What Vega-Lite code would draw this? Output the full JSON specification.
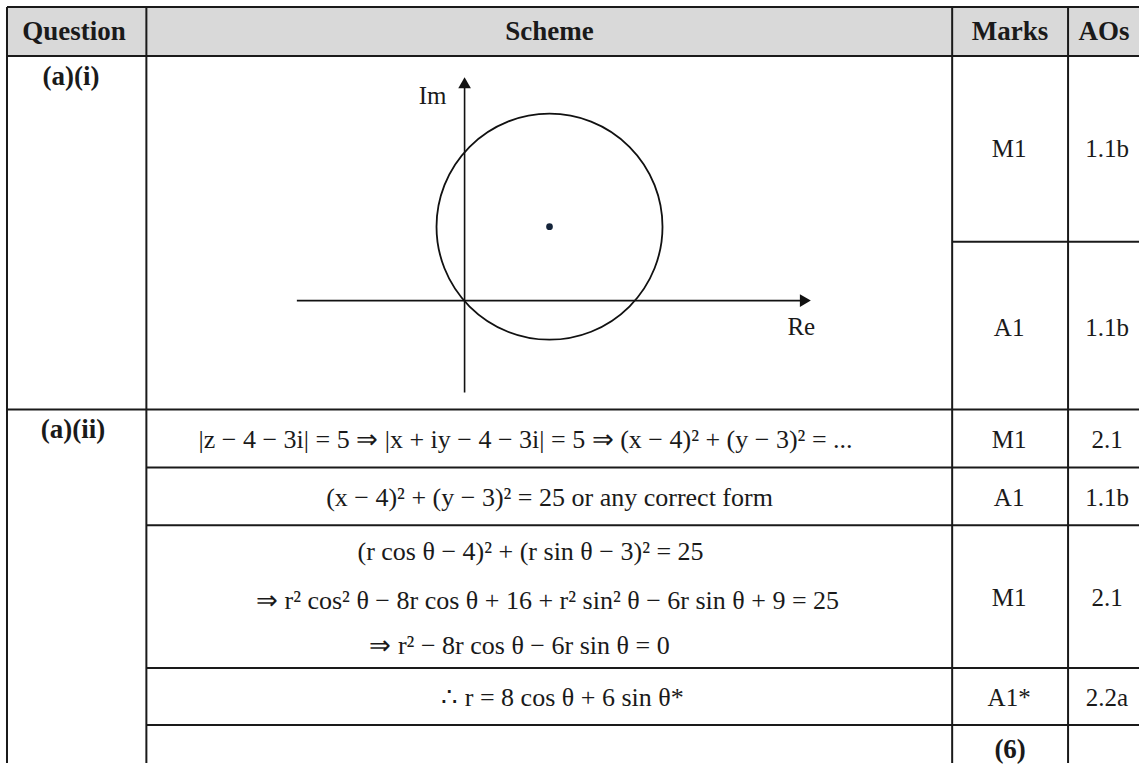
{
  "$schema": "https://vega.github.io/schema/vega-lite/v6.json",
  "width": 1140,
  "height": 764,
  "autosize": {"type": "fit", "contains": "padding"},
  "padding": 0,
  "background": "white",
  "config": {"view": {"stroke": null}, "text": {"font": "Liberation Serif"}},
  "datasets": {
    "header_band": [{"x": 7, "x2": 1140, "y": 7, "y2": 56}],
    "grid": [
      {"x": 7, "x2": 1140, "y": 7, "y2": 7},
      {"x": 7, "x2": 1140, "y": 56, "y2": 56},
      {"x": 953, "x2": 1140, "y": 242, "y2": 242},
      {"x": 7, "x2": 1140, "y": 410, "y2": 410},
      {"x": 146.5, "x2": 1140, "y": 468, "y2": 468},
      {"x": 146.5, "x2": 1140, "y": 526, "y2": 526},
      {"x": 146.5, "x2": 1140, "y": 669, "y2": 669},
      {"x": 146.5, "x2": 1140, "y": 726, "y2": 726},
      {"x": 7, "x2": 7, "y": 7, "y2": 764},
      {"x": 146.5, "x2": 146.5, "y": 7, "y2": 764},
      {"x": 953, "x2": 953, "y": 7, "y2": 764},
      {"x": 1069, "x2": 1069, "y": 7, "y2": 764}
    ],
    "bold_text": [
      {"x": 74, "y": 32, "label": "Question"},
      {"x": 550, "y": 32, "label": "Scheme"},
      {"x": 1011, "y": 32, "label": "Marks"},
      {"x": 1105, "y": 32, "label": "AOs"},
      {"x": 71, "y": 77, "label": "(a)(i)"},
      {"x": 73, "y": 431, "label": "(a)(ii)"},
      {"x": 1011, "y": 751, "label": "(6)"}
    ],
    "marks_text": [
      {"x": 1010, "y": 149, "label": "M1"},
      {"x": 1108, "y": 149, "label": "1.1b"},
      {"x": 1010, "y": 328, "label": "A1"},
      {"x": 1108, "y": 328, "label": "1.1b"},
      {"x": 1010, "y": 441, "label": "M1"},
      {"x": 1108, "y": 441, "label": "2.1"},
      {"x": 1010, "y": 499, "label": "A1"},
      {"x": 1108, "y": 499, "label": "1.1b"},
      {"x": 1010, "y": 599, "label": "M1"},
      {"x": 1108, "y": 599, "label": "2.1"},
      {"x": 1010, "y": 699, "label": "A1*"},
      {"x": 1108, "y": 699, "label": "2.2a"}
    ],
    "scheme_text": [
      {"x": 526, "y": 441, "label": "|z − 4 − 3i| = 5 ⇒ |x + iy − 4 − 3i| = 5 ⇒ (x − 4)² + (y − 3)² = ..."},
      {"x": 550, "y": 499, "label": "(x − 4)² + (y − 3)² = 25 or any correct form"},
      {"x": 531, "y": 553, "label": "(r cos θ − 4)² + (r sin θ − 3)² = 25"},
      {"x": 548, "y": 602, "label": "⇒ r² cos² θ − 8r cos θ + 16 + r² sin² θ − 6r sin θ + 9 = 25"},
      {"x": 520, "y": 647, "label": "⇒ r² − 8r cos θ − 6r sin θ = 0"},
      {"x": 563, "y": 699, "label": "∴ r = 8 cos θ + 6 sin θ*"}
    ],
    "plane_axes": [
      {"re": -7.9, "im": 0, "re2": 16.05, "im2": 0},
      {"re": 0, "im": -3.73, "re2": 0, "im2": 8.84}
    ],
    "arrow_heads": [
      {"re": 16.05, "im": 0, "dir": "right"},
      {"re": 0, "im": 8.84, "dir": "up"}
    ],
    "locus": [{"re": 4, "im": 3}],
    "plane_labels": [
      {"re": -1.51, "im": 8.31, "label": "Im"},
      {"re": 15.86, "im": -1.09, "label": "Re"}
    ]
  },
  "layer": [
    {
      "encoding": {
        "x": {"field": "x", "type": "quantitative", "scale": {"domain": [0, 1140], "nice": false, "zero": false}, "axis": null},
        "y": {"field": "y", "type": "quantitative", "scale": {"domain": [0, 764], "reverse": true, "nice": false, "zero": false}, "axis": null}
      },
      "layer": [
        {
          "data": {"name": "header_band"},
          "mark": {"type": "rect", "color": "#d9d9d9"},
          "encoding": {"x2": {"field": "x2"}, "y2": {"field": "y2"}}
        },
        {
          "data": {"name": "grid"},
          "mark": {"type": "rule", "color": "#1a1a1a", "strokeWidth": 2},
          "encoding": {"x2": {"field": "x2"}, "y2": {"field": "y2"}}
        },
        {
          "data": {"name": "bold_text"},
          "mark": {"type": "text", "font": "Liberation Serif", "fontWeight": "bold", "fontSize": 27, "color": "#1a1a1a", "align": "center", "baseline": "middle"},
          "encoding": {"text": {"field": "label"}}
        },
        {
          "data": {"name": "marks_text"},
          "mark": {"type": "text", "font": "Liberation Serif", "fontSize": 25, "color": "#1a1a1a", "align": "center", "baseline": "middle"},
          "encoding": {"text": {"field": "label"}}
        },
        {
          "data": {"name": "scheme_text"},
          "mark": {"type": "text", "font": "Liberation Serif", "fontSize": 26, "color": "#1a1a1a", "align": "center", "baseline": "middle"},
          "encoding": {"text": {"field": "label"}}
        }
      ]
    },
    {
      "encoding": {
        "x": {"field": "re", "type": "quantitative", "scale": {"domain": [-21.882, 31.765], "nice": false, "zero": false}, "axis": null},
        "y": {"field": "im", "type": "quantitative", "scale": {"domain": [-18.768, 12.201], "nice": false, "zero": false}, "axis": null}
      },
      "layer": [
        {
          "data": {"name": "plane_axes"},
          "mark": {"type": "rule", "color": "#111111", "strokeWidth": 1.6},
          "encoding": {"x2": {"field": "re2"}, "y2": {"field": "im2"}}
        },
        {
          "data": {"name": "arrow_heads"},
          "mark": {"type": "point", "filled": true, "opacity": 1, "color": "#111111", "size": 160},
          "encoding": {
            "shape": {"field": "dir", "type": "nominal", "scale": {"domain": ["right", "up"], "range": ["triangle-right", "triangle-up"]}, "legend": null}
          }
        },
        {
          "data": {"name": "locus"},
          "mark": {"type": "point", "shape": "circle", "filled": false, "opacity": 1, "color": "#111111", "strokeWidth": 1.8, "size": 51076}
        },
        {
          "data": {"name": "locus"},
          "mark": {"type": "point", "shape": "circle", "filled": true, "opacity": 1, "color": "#14243a", "size": 45}
        },
        {
          "data": {"name": "plane_labels"},
          "mark": {"type": "text", "font": "Liberation Serif", "fontSize": 25, "color": "#1a1a1a", "align": "center", "baseline": "middle"},
          "encoding": {"text": {"field": "label"}}
        }
      ]
    }
  ],
  "resolve": {"scale": {"x": "independent", "y": "independent"}}
}
